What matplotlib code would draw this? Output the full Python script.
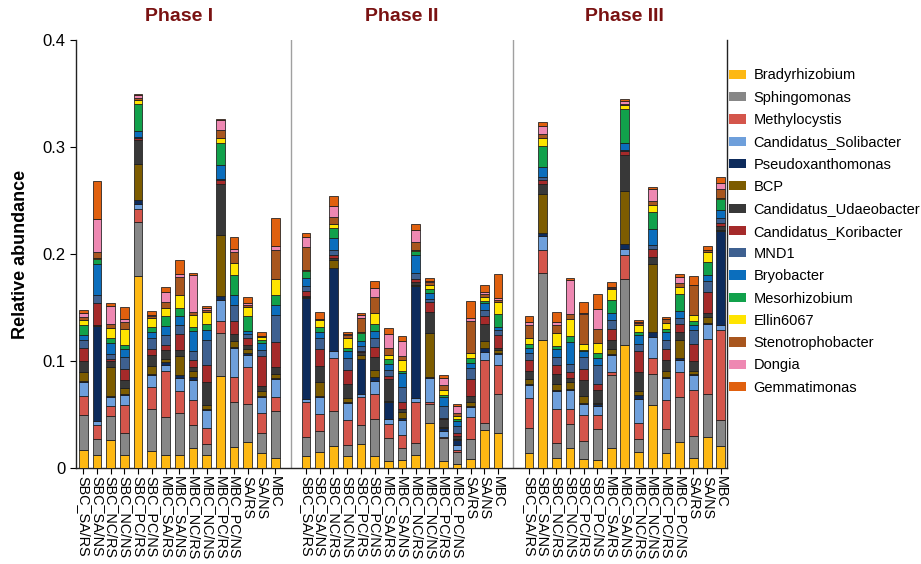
import numpy as np
import matplotlib
matplotlib.use("Agg")
import matplotlib.pyplot as plt
from matplotlib.patches import Patch

plt.rcParams["font.family"] = ["Liberation Sans", "DejaVu Sans"]

phases = ["Phase I", "Phase II", "Phase III"]
samples = ["SBC_SA/RS", "SBC_SA/NS", "SBC_NC/RS", "SBC_NC/NS", "SBC_PC/RS",
           "SBC_PC/NS", "MBC_SA/RS", "MBC_SA/NS", "MBC_NC/RS", "MBC_NC/NS",
           "MBC_PC/RS", "MBC_PC/NS", "SA/RS", "SA/NS", "MBC"]

genera = ["Bradyrhizobium", "Sphingomonas", "Methylocystis", "Candidatus_Solibacter",
          "Pseudoxanthomonas", "BCP", "Candidatus_Udaeobacter", "Candidatus_Koribacter",
          "MND1", "Bryobacter", "Mesorhizobium", "Ellin6067", "Stenotrophobacter",
          "Dongia", "Gemmatimonas"]

colors = ["#FDB813", "#878787", "#D4554B", "#6E9FDB", "#0D2B5C", "#7D5C00",
          "#383838", "#A52A2A", "#3E6090", "#0B6EBD", "#11A14B", "#FFE400",
          "#A8561E", "#EE88B2", "#E0600E"]

# Relative abundance per genus, 15 samples for each of the three phases
bradyrhizobium = [0.0171, 0.0125, 0.0259, 0.0125, 0.1798, 0.0162, 0.0125, 0.0125, 0.0187, 0.0118, 0.0857, 0.0193, 0.0243, 0.0140, 0.0093,
                  0.0115, 0.0146, 0.0206, 0.0115, 0.0221, 0.0115, 0.0065, 0.0075, 0.0121, 0.0417, 0.0065, 0.0034, 0.0084, 0.0355, 0.0324,
                  0.0140, 0.1199, 0.0093, 0.0187, 0.0087, 0.0072, 0.0187, 0.1153, 0.0150, 0.0592, 0.0140, 0.0243, 0.0097, 0.0290, 0.0202]
sphingomonas = [0.0327, 0.0146, 0.0224, 0.0202, 0.0498, 0.0389, 0.0349, 0.0389, 0.0218, 0.0106, 0.0405, 0.0424, 0.0355, 0.0187, 0.0436,
                0.0178, 0.0199, 0.0330, 0.0100, 0.0181, 0.0340, 0.0218, 0.0109, 0.0109, 0.0178, 0.0212, 0.0118, 0.0187, 0.0062, 0.0364,
                0.0234, 0.0623, 0.0140, 0.0227, 0.0162, 0.0296, 0.0679, 0.0611, 0.0125, 0.0283, 0.0227, 0.0421, 0.0199, 0.0399, 0.0243]
methylocystis = [0.0171, 0.0134, 0.0093, 0.0259, 0.0128, 0.0206, 0.0436, 0.0209, 0.0234, 0.0150, 0.0109, 0.0231, 0.0343, 0.0187, 0.0131,
                 0.0327, 0.0162, 0.0495, 0.0234, 0.0265, 0.0234, 0.0125, 0.0125, 0.0383, 0.0025, 0.0016, 0.0016, 0.0209, 0.0592, 0.0274,
                 0.0280, 0.0212, 0.0321, 0.0140, 0.0243, 0.0131, 0.0031, 0.0231, 0.0150, 0.0156, 0.0265, 0.0234, 0.0436, 0.0520, 0.0847]
solibacter = [0.0131, 0.0037, 0.0084, 0.0100, 0.0044, 0.0109, 0.0056, 0.0118, 0.0187, 0.0171, 0.0202, 0.0274, 0.0112, 0.0146, 0.0174,
              0.0025, 0.0159, 0.0062, 0.0156, 0.0022, 0.0125, 0.0047, 0.0140, 0.0044, 0.0224, 0.0056, 0.0047, 0.0093, 0.0078, 0.0100,
              0.0118, 0.0131, 0.0162, 0.0171, 0.0109, 0.0081, 0.0156, 0.0050, 0.0224, 0.0193, 0.0212, 0.0109, 0.0134, 0.0140, 0.0040]
pseudoxanthomonas = [0.0009, 0.0885, 0.0009, 0.0009, 0.0040, 0.0009, 0.0025, 0.0031, 0.0022, 0.0009, 0.0031, 0.0009, 0.0022, 0.0009, 0.0009,
                     0.0947, 0.0009, 0.0779, 0.0009, 0.0327, 0.0040, 0.0165, 0.0022, 0.1044, 0.0009, 0.0022, 0.0047, 0.0009, 0.0037, 0.0009,
                     0.0009, 0.0034, 0.0009, 0.0009, 0.0009, 0.0022, 0.0009, 0.0044, 0.0031, 0.0047, 0.0009, 0.0022, 0.0009, 0.0009, 0.0885]
bcp = [0.0084, 0.0006, 0.0274, 0.0053, 0.0333, 0.0081, 0.0031, 0.0171, 0.0062, 0.0037, 0.0576, 0.0053, 0.0040, 0.0047, 0.0040,
       0.0009, 0.0125, 0.0072, 0.0037, 0.0040, 0.0062, 0.0009, 0.0050, 0.0009, 0.0411, 0.0009, 0.0009, 0.0031, 0.0062, 0.0031,
       0.0047, 0.0364, 0.0062, 0.0069, 0.0062, 0.0009, 0.0053, 0.0498, 0.0037, 0.0632, 0.0050, 0.0165, 0.0028, 0.0053, 0.0009]
udaeobacter = [0.0103, 0.0006, 0.0056, 0.0072, 0.0227, 0.0100, 0.0084, 0.0062, 0.0031, 0.0212, 0.0474, 0.0069, 0.0031, 0.0047, 0.0062,
               0.0009, 0.0156, 0.0022, 0.0131, 0.0031, 0.0125, 0.0202, 0.0031, 0.0025, 0.0196, 0.0078, 0.0031, 0.0062, 0.0156, 0.0022,
               0.0075, 0.0093, 0.0093, 0.0037, 0.0146, 0.0118, 0.0078, 0.0336, 0.0181, 0.0069, 0.0103, 0.0078, 0.0093, 0.0040, 0.0031]
koribacter = [0.0125, 0.0202, 0.0019, 0.0109, 0.0016, 0.0056, 0.0040, 0.0146, 0.0072, 0.0156, 0.0040, 0.0125, 0.0069, 0.0280, 0.0234,
              0.0047, 0.0156, 0.0025, 0.0134, 0.0009, 0.0087, 0.0031, 0.0062, 0.0031, 0.0093, 0.0009, 0.0022, 0.0156, 0.0081, 0.0118,
              0.0103, 0.0031, 0.0078, 0.0056, 0.0109, 0.0053, 0.0103, 0.0037, 0.0193, 0.0078, 0.0103, 0.0078, 0.0165, 0.0193, 0.0031]
mnd1 = [0.0078, 0.0072, 0.0047, 0.0109, 0.0009, 0.0106, 0.0100, 0.0087, 0.0078, 0.0240, 0.0009, 0.0143, 0.0037, 0.0062, 0.0249,
        0.0047, 0.0100, 0.0047, 0.0115, 0.0040, 0.0084, 0.0053, 0.0146, 0.0056, 0.0025, 0.0109, 0.0072, 0.0106, 0.0053, 0.0047,
        0.0072, 0.0031, 0.0078, 0.0078, 0.0109, 0.0181, 0.0084, 0.0009, 0.0072, 0.0031, 0.0084, 0.0053, 0.0125, 0.0100, 0.0047]
bryobacter = [0.0047, 0.0293, 0.0103, 0.0072, 0.0053, 0.0056, 0.0078, 0.0078, 0.0187, 0.0093, 0.0125, 0.0093, 0.0025, 0.0062, 0.0100,
              0.0069, 0.0062, 0.0115, 0.0062, 0.0053, 0.0072, 0.0056, 0.0125, 0.0168, 0.0062, 0.0084, 0.0040, 0.0047, 0.0062, 0.0031,
              0.0044, 0.0093, 0.0078, 0.0202, 0.0062, 0.0062, 0.0069, 0.0072, 0.0078, 0.0156, 0.0078, 0.0062, 0.0047, 0.0056, 0.0078]
mesorhizobium = [0.0087, 0.0047, 0.0047, 0.0037, 0.0259, 0.0047, 0.0093, 0.0078, 0.0037, 0.0053, 0.0209, 0.0193, 0.0146, 0.0025, 0.0087,
                 0.0072, 0.0047, 0.0093, 0.0025, 0.0072, 0.0059, 0.0047, 0.0022, 0.0040, 0.0031, 0.0025, 0.0022, 0.0047, 0.0022, 0.0115,
                 0.0040, 0.0202, 0.0025, 0.0062, 0.0009, 0.0053, 0.0118, 0.0318, 0.0031, 0.0156, 0.0025, 0.0165, 0.0037, 0.0125, 0.0100]
ellin6067 = [0.0053, 0.0006, 0.0090, 0.0150, 0.0037, 0.0084, 0.0078, 0.0125, 0.0112, 0.0112, 0.0050, 0.0109, 0.0078, 0.0031, 0.0150,
             0.0006, 0.0062, 0.0031, 0.0093, 0.0006, 0.0103, 0.0037, 0.0103, 0.0006, 0.0037, 0.0047, 0.0031, 0.0040, 0.0040, 0.0118,
             0.0053, 0.0069, 0.0125, 0.0156, 0.0053, 0.0093, 0.0103, 0.0031, 0.0062, 0.0069, 0.0062, 0.0062, 0.0056, 0.0093, 0.0009]
stenotrophobacter = [0.0022, 0.0056, 0.0040, 0.0069, 0.0016, 0.0016, 0.0053, 0.0162, 0.0031, 0.0022, 0.0069, 0.0103, 0.0025, 0.0009, 0.0271,
                     0.0218, 0.0006, 0.0072, 0.0031, 0.0131, 0.0150, 0.0065, 0.0040, 0.0072, 0.0031, 0.0040, 0.0022, 0.0302, 0.0022, 0.0016,
                     0.0118, 0.0040, 0.0075, 0.0047, 0.0280, 0.0125, 0.0012, 0.0016, 0.0025, 0.0031, 0.0031, 0.0040, 0.0280, 0.0016, 0.0087]
dongia = [0.0040, 0.0312, 0.0171, 0.0031, 0.0025, 0.0006, 0.0097, 0.0031, 0.0343, 0.0016, 0.0100, 0.0031, 0.0016, 0.0006, 0.0037,
          0.0093, 0.0006, 0.0103, 0.0006, 0.0031, 0.0084, 0.0137, 0.0137, 0.0115, 0.0006, 0.0069, 0.0072, 0.0025, 0.0025, 0.0016,
          0.0031, 0.0072, 0.0025, 0.0318, 0.0006, 0.0187, 0.0006, 0.0028, 0.0006, 0.0112, 0.0006, 0.0053, 0.0006, 0.0006, 0.0056]
gemmatimonas = [0.0031, 0.0358, 0.0022, 0.0109, 0.0016, 0.0040, 0.0044, 0.0134, 0.0022, 0.0022, 0.0009, 0.0109, 0.0053, 0.0037, 0.0268,
                0.0037, 0.0062, 0.0090, 0.0025, 0.0016, 0.0069, 0.0050, 0.0050, 0.0056, 0.0031, 0.0025, 0.0016, 0.0165, 0.0062, 0.0224,
                0.0056, 0.0044, 0.0093, 0.0019, 0.0109, 0.0140, 0.0050, 0.0019, 0.0022, 0.0022, 0.0016, 0.0025, 0.0078, 0.0031, 0.0053]

series = [bradyrhizobium, sphingomonas, methylocystis, solibacter, pseudoxanthomonas,
          bcp, udaeobacter, koribacter, mnd1, bryobacter, mesorhizobium, ellin6067,
          stenotrophobacter, dongia, gemmatimonas]

# x layout: three blocks of 15 bars separated by a small gap
n = len(samples)
block = 16.25
x = np.concatenate([p * block + np.arange(n) for p in range(len(phases))])
labels = samples * len(phases)

fig = plt.figure(figsize=(9.21, 5.64), dpi=100)
ax = fig.add_axes([0.0825, 0.1702, 0.7069, 0.7589])

bottom = np.zeros(len(x))
for vals, col, name in zip(series, colors, genera):
    v = np.array(vals)
    ax.bar(x, v, width=0.64, bottom=bottom, color=col, edgecolor="#1a1a1a",
           linewidth=0.55, label=name, zorder=3)
    bottom += v

ax.set_xlim(-0.53, 46.95)
ax.set_ylim(0, 0.4)
ax.set_yticks([0, 0.1, 0.2, 0.3, 0.4])
ax.set_yticklabels(["0", "0.1", "0.2", "0.3", "0.4"], fontsize=12)
ax.set_xticks(x)
ax.set_xticklabels(labels, rotation=270, fontsize=10.4, ha="center", va="top")
ax.tick_params(axis="x", length=4, width=0.8, pad=2)
ax.tick_params(axis="y", length=4, width=0.8)
ax.set_ylabel("Relative abundance", fontsize=13, fontweight="bold", labelpad=10)

ax.spines["top"].set_visible(False)
for s in ["left", "bottom", "right"]:
    ax.spines[s].set_color("#222222")
    ax.spines[s].set_linewidth(1.0)

# phase separators and titles
for p in range(1, len(phases)):
    ax.axvline(p * block - (block - n + 1) / 2, color="#a0a0a0", lw=1.0, zorder=1)
for p, name in enumerate(phases):
    xc = p * block + (n - 1) / 2
    ax.text(xc, 1.035, name, transform=ax.get_xaxis_transform(), ha="center",
            va="bottom", fontsize=14, fontweight="bold", color="#7A1212")

handles = [Patch(facecolor=c, edgecolor="none", label=g) for g, c in zip(genera, colors)]
fig.legend(handles=handles, loc="upper left", bbox_to_anchor=(0.785, 0.889),
           frameon=False, fontsize=10.5, handlelength=1.2, handleheight=0.6,
           handletextpad=0.5, labelspacing=0.57, borderaxespad=0)

fig.savefig("out.png", dpi=100)
